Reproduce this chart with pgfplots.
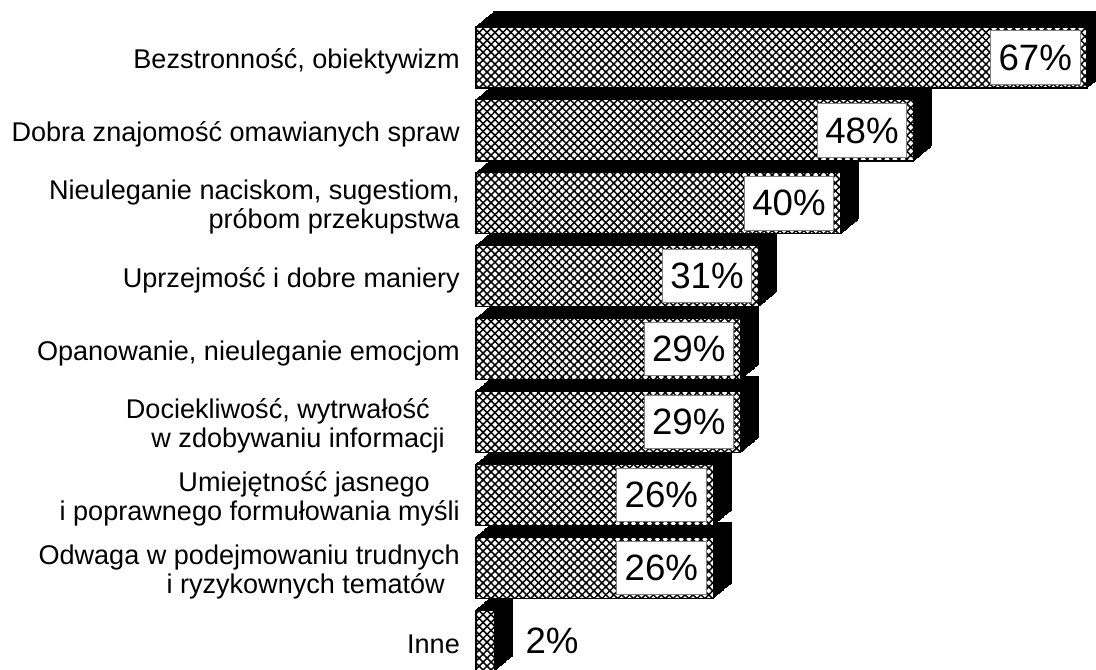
\documentclass[border=0pt]{standalone}
\usepackage{fontspec}
\setmainfont{Liberation Sans}
\usepackage{pgfplots}
\usepackage{pgfplotstable}
\pgfplotsset{compat=1.18}
\usetikzlibrary{patterns.meta}

\pgfplotstableread{
y v
0 2
1 26
2 26
3 29
4 29
5 31
6 40
7 48
8 67
}\datall
\pgfplotstableread{
y v
1 26
2 26
3 29
4 29
5 31
6 40
7 48
8 67
}\datmain
\pgfplotstableread{
y v
0 2
}\datinne

\tikzset{
  frontface/.style={draw=black, line width=0.9pt, fill=white,
    postaction={pattern={Lines[angle=45,distance=4.2pt,line width=1.15pt]}},
    postaction={pattern={Lines[angle=-45,distance=4.2pt,line width=1.15pt]}}}
}

\begin{document}
\begin{tikzpicture}
\begin{axis}[
  at={(0,0)}, anchor=south west,
  scale only axis, width=468.42pt, height=502.5pt,
  xmin=-0.5, xmax=67.98, ymin=-0.402, ymax=8.789,
  axis line style={draw=none}, major tick length=0pt,
  xtick=\empty, ytick={0,...,8},
  /pgf/number format/assume math mode=true,
  yticklabels={
    {Inne},
    {Odwaga w podejmowaniu trudnych\\i ryzykownych tematów\hphantom{a}},
    {Umiejętność jasnego\hphantom{aa}\\i poprawnego formułowania myśli},
    {Dociekliwość, wytrwałość\hphantom{aa}\\w zdobywaniu informacji\hphantom{a}},
    {Opanowanie, nieuleganie emocjom},
    {Uprzejmość i dobre maniery},
    {Nieuleganie naciskom, sugestiom,\\próbom przekupstwa},
    {Dobra znajomość omawianych spraw},
    {Bezstronność, obiektywizm}},
  yticklabel style={align=right, font=\fontsize{20.3}{21.5}\selectfont, inner sep=0pt, xshift=-8.5pt, yshift=-3pt},
  xbar, bar width=0.837, bar shift=0pt,
]
\pgfplotsinvokeforeach{0,...,20}{
  \addplot[xbar, bar shift=0pt, fill=black, draw=black, line width=0.8pt,
    xshift=#1*0.675pt, yshift=#1*0.5625pt] table[x=v,y=y]{\datall};
}
\addplot[xbar, bar shift=0pt, frontface, point meta=x,
  nodes near coords={\pgfmathprintnumber{\pgfplotspointmeta}\%},
  nodes near coords style={anchor=east, xshift=-5pt, fill=white, draw=gray, line width=0.6pt,
    font=\fontsize{27.5}{30}\selectfont, inner xsep=6pt, inner ysep=0pt, minimum height=40pt, text=black}]
  table[x=v,y=y]{\datmain};
\addplot[xbar, bar shift=0pt, frontface, point meta=x,
  nodes near coords={\pgfmathprintnumber{\pgfplotspointmeta}\%},
  nodes near coords style={anchor=west, xshift=23pt, inner sep=0pt,
    font=\fontsize{27.5}{30}\selectfont, text=black}]
  table[x=v,y=y]{\datinne};
\end{axis}
\pgfresetboundingbox
\path[use as bounding box] (-353.58pt,0) rectangle (468.42pt,502.5pt);
\end{tikzpicture}
\end{document}
